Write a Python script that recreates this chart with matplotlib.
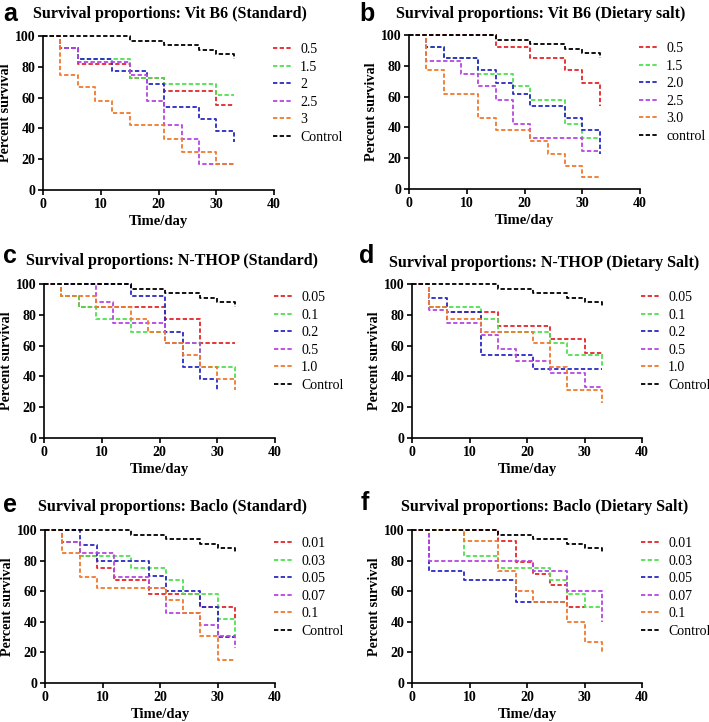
import matplotlib
matplotlib.use("Agg")
import matplotlib.pyplot as plt

W, H = 709, 722

days = [0, 3, 6, 9, 12, 15, 18, 21, 24, 27, 30, 33]
control = [100, 100, 100, 100, 100, 97, 97, 94, 94, 91, 88, 85]

# Panel a: Vit B6 (Standard)
a_labels = ["0.5", "1.5", "2", "2.5", "3", "Control"]
a_05 = [100, 92, 82, 82, 82, 73, 73, 64, 64, 64, 55, 55]
a_15 = [100, 92, 85, 85, 85, 73, 73, 69, 69, 69, 62, 62]
a_2 = [100, 92, 85, 85, 77, 77, 69, 54, 54, 46, 38, 31]
a_25 = [100, 92, 83, 83, 83, 75, 58, 42, 33, 17, 17, 17]
a_3 = [100, 75, 67, 58, 50, 42, 42, 33, 25, 25, 17, 17]

# Panel b: Vit B6 (Dietary salt)
b_labels = ["0.5", "1.5", "2.0", "2.5", "3.0", "control"]
b_05 = [100, 100, 100, 100, 100, 92, 92, 85, 85, 77, 69, 54]
b_15 = [100, 92, 85, 85, 75, 75, 67, 58, 58, 42, 33, 33]
b_20 = [100, 92, 85, 85, 77, 69, 62, 54, 54, 46, 38, 23]
b_25 = [100, 83, 83, 75, 67, 58, 42, 33, 33, 33, 25, 25]
b_30 = [100, 77, 62, 62, 46, 38, 38, 31, 23, 15, 8, 8]

# Panel c: N-THOP (Standard)
c_labels = ["0.05", "0.1", "0.2", "0.5", "1.0", "Control"]
c_005 = [100, 92, 85, 85, 85, 85, 85, 77, 77, 62, 62, 62]
c_01 = [100, 92, 85, 77, 77, 69, 69, 62, 62, 46, 46, 38]
c_02 = [100, 100, 100, 100, 100, 92, 92, 69, 46, 38, 31]
c_05 = [100, 100, 100, 88, 75, 75, 75, 62, 62, 46]
c_10 = [100, 92, 92, 85, 85, 77, 69, 62, 54, 46, 38, 31]

# Panel d: N-THOP (Dietary Salt)
d_labels = ["0.05", "0.1", "0.2", "0.5", "1.0", "Control"]
d_005 = [100, 85, 82, 82, 82, 73, 73, 73, 64, 64, 55, 54]
d_01 = [100, 85, 85, 85, 77, 69, 69, 69, 62, 54, 54, 46]
d_02 = [100, 91, 82, 82, 54, 54, 54, 45, 45, 45, 45, 45]
d_05 = [100, 83, 75, 75, 67, 58, 50, 50, 42, 42, 33, 33]
d_10 = [100, 85, 77, 77, 69, 69, 69, 62, 46, 31, 31, 23]

# Panel e: Baclo (Standard)
e_labels = ["0.01", "0.03", "0.05", "0.07", "0.1", "Control"]
e_001 = [100, 92, 83, 75, 67, 67, 58, 58, 58, 50, 50, 42]
e_003 = [100, 92, 83, 83, 83, 75, 75, 67, 58, 58, 42, 31]
e_005 = [100, 100, 90, 80, 80, 80, 70, 60, 60, 50, 30, 30]
e_007 = [100, 92, 85, 85, 69, 69, 62, 46, 46, 38, 31, 23]
e_01 = [100, 85, 69, 62, 62, 62, 62, 54, 46, 31, 15, 15]

# Panel f: Baclo (Dietary Salt)
f_labels = ["0.01", "0.03", "0.05", "0.07", "0.1", "Control"]
f_001 = [100, 100, 100, 100, 100, 93, 79, 71, 64, 50, 50]
f_003 = [100, 100, 100, 83, 83, 75, 75, 75, 67, 58, 50, 50]
f_005 = [100, 73, 73, 67, 67, 67, 53, 53, 53, 53]
f_007 = [100, 80, 80, 80, 80, 80, 80, 73, 73, 60, 60, 40]
f_01 = [100, 100, 100, 93, 93, 73, 60, 53, 53, 40, 27, 20]

colors = ["#e3262b", "#4fe04f", "#2a2ac4", "#b845e0", "#f07a2e", "#000000"]

panels = [
    dict(letter="a", title="Survival proportions: Vit B6 (Standard)",
         series=[a_05, a_15, a_2, a_25, a_3], labels=a_labels,
         box=(43, 36, 274, 190), title_xy=(170, 14), letter_xy=(3, 14)),
    dict(letter="b", title="Survival proportions: Vit B6 (Dietary salt)",
         series=[b_05, b_15, b_20, b_25, b_30], labels=b_labels,
         box=(409, 35, 640, 189), title_xy=(541, 14), letter_xy=(359, 14)),
    dict(letter="c", title="Survival proportions: N-THOP (Standard)",
         series=[c_005, c_01, c_02, c_05, c_10], labels=c_labels,
         box=(44, 284, 275, 438), title_xy=(172, 261), letter_xy=(3, 256)),
    dict(letter="d", title="Survival proportions: N-THOP (Dietary Salt)",
         series=[d_005, d_01, d_02, d_05, d_10], labels=d_labels,
         box=(412, 284, 642, 438), title_xy=(544, 263), letter_xy=(359, 256)),
    dict(letter="e", title="Survival proportions: Baclo (Standard)",
         series=[e_001, e_003, e_005, e_007, e_01], labels=e_labels,
         box=(45, 530, 275, 683), title_xy=(172, 507), letter_xy=(3, 505)),
    dict(letter="f", title="Survival proportions: Baclo (Dietary Salt)",
         series=[f_001, f_003, f_005, f_007, f_01], labels=f_labels,
         box=(412, 530, 642, 683), title_xy=(545, 507), letter_xy=(361, 503)),
]

serif = ["Liberation Serif", "DejaVu Serif"]
fig = plt.figure(figsize=(W / 100, H / 100), dpi=100)

LW = 1.3
DASH = (0, (2.4, 1.3))

for p in panels:
    x0, y0, x1, y1 = p["box"]
    ax = fig.add_axes([x0 / W, 1 - y1 / H, (x1 - x0) / W, (y1 - y0) / H])
    handles = []
    for vals, col in zip(p["series"], colors[:5]):
        ln, = ax.plot(days[:len(vals)], vals, drawstyle="steps-post", color=col,
                      lw=LW, linestyle=DASH, clip_on=False)
        handles.append(ln)
    ln, = ax.plot(days, control, drawstyle="steps-post", color="black",
                  lw=LW, linestyle=DASH, clip_on=False)
    handles.append(ln)
    ax.set_xlim(0, 40)
    ax.set_ylim(0, 100)
    ax.set_xticks([0, 10, 20, 30, 40])
    ax.set_yticks([0, 20, 40, 60, 80, 100])
    for s in ["top", "right"]:
        ax.spines[s].set_visible(False)
    for s in ["left", "bottom"]:
        ax.spines[s].set_linewidth(1.2)
    ax.tick_params(direction="out", length=3.5, width=1.2, pad=2)
    for t in ax.get_xticklabels() + ax.get_yticklabels():
        t.set_fontfamily(serif)
        t.set_fontweight("bold")
        t.set_fontsize(10)
    ax.set_xlabel("Time/day", fontfamily=serif, fontweight="bold", fontsize=10.5, labelpad=3)
    ax.set_ylabel("Percent survival", fontfamily=serif, fontweight="bold", fontsize=10.2, labelpad=2)
    ax.legend(handles, p["labels"], loc="upper left",
              bbox_to_anchor=((x1 - 1) / W, 1 - (y0 + 7) / H),
              bbox_transform=fig.transFigure, frameon=False,
              prop={"family": serif, "size": 10},
              handlelength=1.45, handletextpad=0.5, labelspacing=0.33,
              borderaxespad=0, borderpad=0)
    fig.text(p["title_xy"][0] / W, 1 - p["title_xy"][1] / H, p["title"],
             fontfamily=serif, fontweight="bold", fontsize=11.5,
             ha="center", va="center")
    fig.text(p["letter_xy"][0] / W, 1 - p["letter_xy"][1] / H, p["letter"],
             fontfamily=["Liberation Sans", "DejaVu Sans"], fontweight="bold",
             fontsize=18, ha="left", va="center")

fig.savefig("out.png", dpi=100)
